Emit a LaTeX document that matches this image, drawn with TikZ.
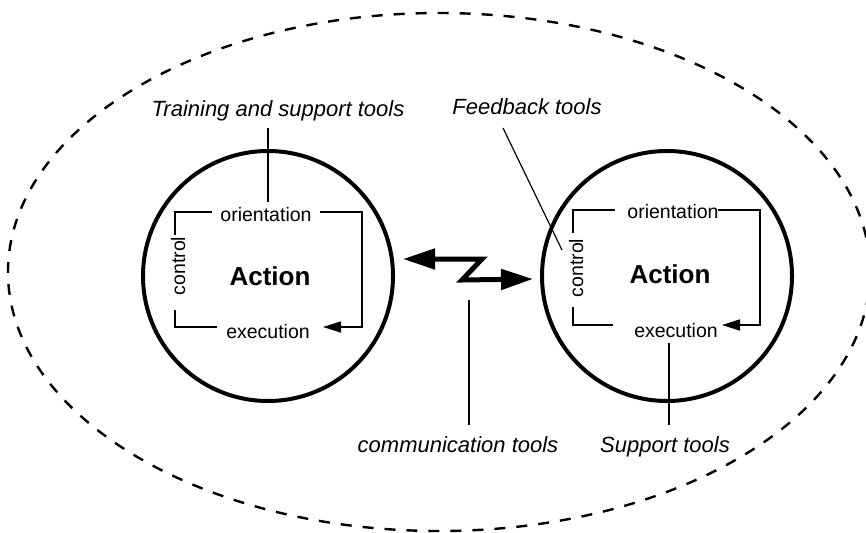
\documentclass[tikz,border=0pt]{standalone}
\usepackage{fontspec}
\setmainfont{Liberation Sans}
\usetikzlibrary{arrows.meta}

\begin{document}
\begin{tikzpicture}[x=1pt,y=-1pt,
  lbl/.style={font=\fontsize{22}{26}\selectfont\itshape, anchor=base, inner sep=0pt},
  phase/.style={font=\fontsize{19.5}{23}\selectfont, anchor=base, inner sep=0pt},
  act/.style={font=\fontsize{26}{30}\selectfont\bfseries, anchor=base, inner sep=0pt},
  actor/.style={circle, draw, line width=4pt, minimum size=250pt, inner sep=0pt},
  loopline/.style={line width=1.7pt},
  looparrow/.style={line width=1.7pt, -{Triangle[length=18pt,width=11pt]}},
  leader/.style={line width=1.2pt},
  boundary/.style={line width=2.4pt, dash pattern=on 11pt off 11pt},
  comm/.style={line width=5pt, line join=miter,
    {Triangle[length=32pt,width=20pt]}-{Triangle[length=32pt,width=20pt]}}]

\clip (0,0) rectangle (866,532);

% activity system boundary
\draw[boundary] (439,272) ellipse [x radius=431, y radius=259];

% the two actors
\node[actor] (lcirc) at (268,276) {};
\node[actor] (rcirc) at (667,276) {};

% left action loop
\node[act]   (lact)  at (270,285) {Action};
\node[phase] (lori)  at (266,221) {orientation};
\node[phase] (lexe)  at (268,338) {execution};
\node[phase, rotate=90] (lctl) at (185,266) {control};
\draw[loopline] (212,212) -| (175,235);
\draw[loopline] (175,310) |- (217,327);
\draw[looparrow] (320,212) -| (362,327) -- (323,327);

% right action loop
\node[act]   (ract)  at (670,283) {Action};
\node[phase] (rori)  at (673,218) {orientation};
\node[phase] (rexe)  at (676,337) {execution};
\node[phase, rotate=90] (rctl) at (583,268) {control};
\draw[loopline] (615,210) -| (573,233);
\draw[loopline] (573,307) |- (613,325);
\draw[looparrow] (718,210) -| (760,325) -- (722,325);

% communication between the actors
\coordinate (commL) at (403,259);
\coordinate (commR) at (533,279);
\draw[comm] (commL) -- (482,259) -- (462,280) -- (commR);

% tool labels
\node[lbl] (train) at (278,117) {Training and support tools};
\node[lbl] (feed)  at (527,114) {Feedback tools};
\node[lbl] (commt) at (458,452) {communication tools};
\node[lbl] (supp)  at (665,452) {Support tools};

% leader lines
\coordinate (trainA) at (268,128);
\coordinate (trainB) at (268,202);
\coordinate (feedA)  at (503,128);
\coordinate (feedB)  at (562,250);
\coordinate (commA)  at (469,300);
\coordinate (commB)  at (469,425);
\coordinate (suppA)  at (669,343);
\coordinate (suppB)  at (669,425);
\draw[leader] (trainA) -- (trainB);
\draw[leader] (feedA) -- (feedB);
\draw[leader] (commA) -- (commB);
\draw[leader] (suppA) -- (suppB);
\end{tikzpicture}
\end{document}
